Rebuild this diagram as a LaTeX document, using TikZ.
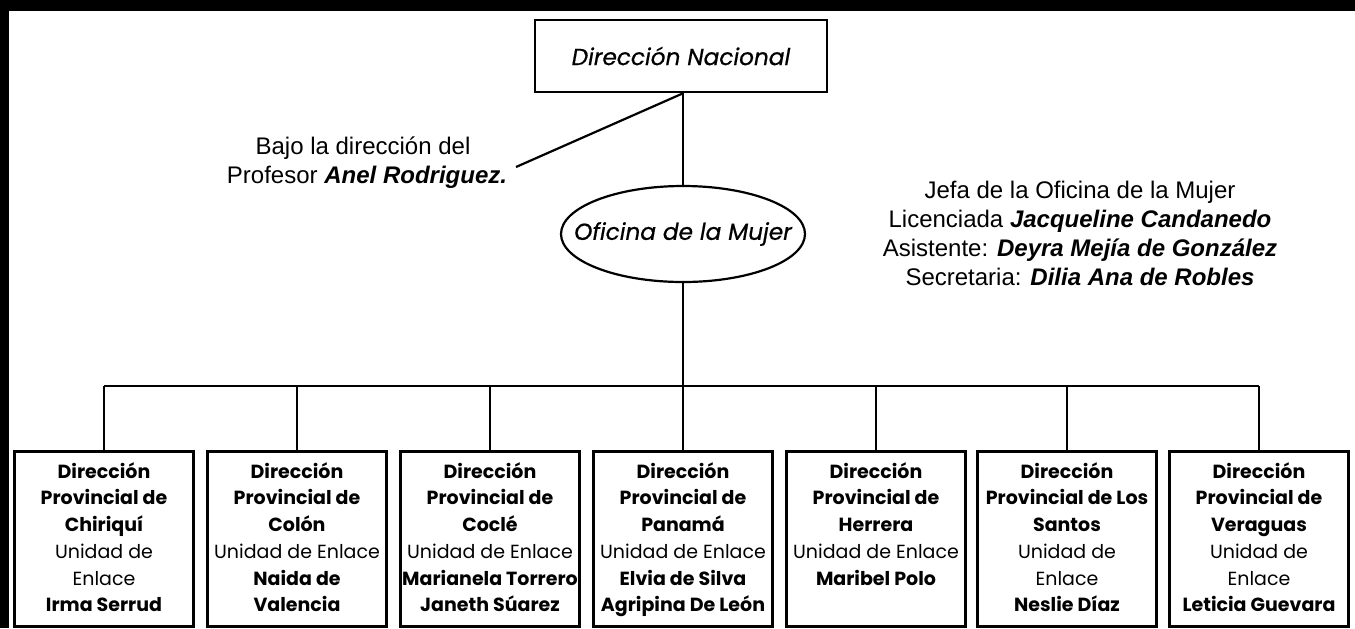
\documentclass[tikz,border=0pt]{standalone}
\usepackage{fontspec}
\setmainfont{Liberation Sans}
\newfontfamily\gothic{Poppins}
\newfontfamily\gothicmed[FakeBold=0.6]{Poppins}
\usetikzlibrary{shapes.geometric}
\begin{document}
\begin{tikzpicture}[x=0.5pt,y=-0.5pt,
  conn/.style={line width=1.1pt},
  provbox/.style={draw, line width=1.4pt, minimum width=89.5pt, minimum height=87.5pt, inner sep=0pt, anchor=north},
  provtxt/.style={anchor=north, align=center, font=\gothic\fontsize{9.5}{13.35}\selectfont, inner sep=0pt},
  toplbl/.style={inner sep=0pt, font=\gothicmed\itshape\fontsize{11.6}{13}\selectfont},
  lbl/.style={align=center, font=\fontsize{12}{14.5}\selectfont, inner sep=0pt}]
\fill[white] (0,0) rectangle (1355,628);
\useasboundingbox (0,0) rectangle (1355,628);
\fill[black] (0,0) rectangle (1355,11);
\fill[black] (0,0) rectangle (9,628);

% top
\node[draw, line width=1.3pt, minimum width=146pt, minimum height=36pt, inner sep=0pt, toplbl] (nac) at (681,56) {Dirección Nacional};
\node[ellipse, draw, line width=1.1pt, minimum width=122pt, minimum height=48pt, inner sep=0pt] (ofi) at (683,234) {};
\node[toplbl] (ofitxt) at (ofi.center) {Oficina de la Mujer};
\draw[conn] (ofi.north |- nac.south) -- (ofi.north);

% left note
\node[anchor=base, lbl] (bajoA) at (363,154) {Bajo la dirección del};
\node[anchor=base, lbl] (bajoB) at (367,183) {Profesor \textbf{\textit{Anel Rodriguez.}}};
\coordinate (dend) at (516,167);
\draw[conn] (dend) -- (ofi.north |- nac.south);

% right note
\node[lbl, anchor=north] (jefa) at (1080,181) {Jefa de la Oficina de la Mujer\\
Licenciada \textbf{\textit{Jacqueline Candanedo}}\\
Asistente: \textbf{\textit{Deyra Mejía de González}}\\
Secretaria: \textbf{\textit{Dilia Ana de Robles}}};

% provincial boxes
\node[provbox] (p1) at (104,450) {};
\node[provbox] (p2) at (297,450) {};
\node[provbox] (p3) at (490,450) {};
\node[provbox] (p4) at (683,450) {};
\node[provbox] (p5) at (876,450) {};
\node[provbox] (p6) at (1067,450) {};
\node[provbox] (p7) at (1259,450) {};

\node[provtxt] (t1) at ([yshift=-6pt]p1.north) {\textbf{Dirección}\\ \textbf{Provincial de}\\ \textbf{Chiriquí}\\ Unidad de\\ Enlace\\ \textbf{Irma Serrud}};
\node[provtxt] (t2) at ([yshift=-6pt]p2.north) {\textbf{Dirección}\\ \textbf{Provincial de}\\ \textbf{Colón}\\ Unidad de Enlace\\ \textbf{Naida de}\\ \textbf{Valencia}};
\node[provtxt] (t3) at ([yshift=-6pt]p3.north) {\textbf{Dirección}\\ \textbf{Provincial de}\\ \textbf{Coclé}\\ Unidad de Enlace\\ \textbf{Marianela Torrero}\\ \textbf{Janeth Súarez}};
\node[provtxt] (t4) at ([yshift=-6pt]p4.north) {\textbf{Dirección}\\ \textbf{Provincial de}\\ \textbf{Panamá}\\ Unidad de Enlace\\ \textbf{Elvia de Silva}\\ \textbf{Agripina De León}};
\node[provtxt] (t5) at ([yshift=-6pt]p5.north) {\textbf{Dirección}\\ \textbf{Provincial de}\\ \textbf{Herrera}\\ Unidad de Enlace\\ \textbf{Maribel Polo}};
\node[provtxt] (t6) at ([yshift=-6pt]p6.north) {\textbf{Dirección}\\ \textbf{Provincial de Los}\\ \textbf{Santos}\\ Unidad de\\ Enlace\\ \textbf{Neslie Díaz}};
\node[provtxt] (t7) at ([yshift=-6pt]p7.north) {\textbf{Dirección}\\ \textbf{Provincial de}\\ \textbf{Veraguas}\\ Unidad de\\ Enlace\\ \textbf{Leticia Guevara}};

% connectors
\coordinate (bary) at (0,386);
\draw[conn] (ofi.south) -- (ofi.south |- bary);
\draw[conn] (p1.north |- bary) -- (p7.north |- bary);
\foreach \k in {1,...,7} {\draw[conn] (p\k.north |- bary) -- (p\k.north);}
\end{tikzpicture}
\end{document}
